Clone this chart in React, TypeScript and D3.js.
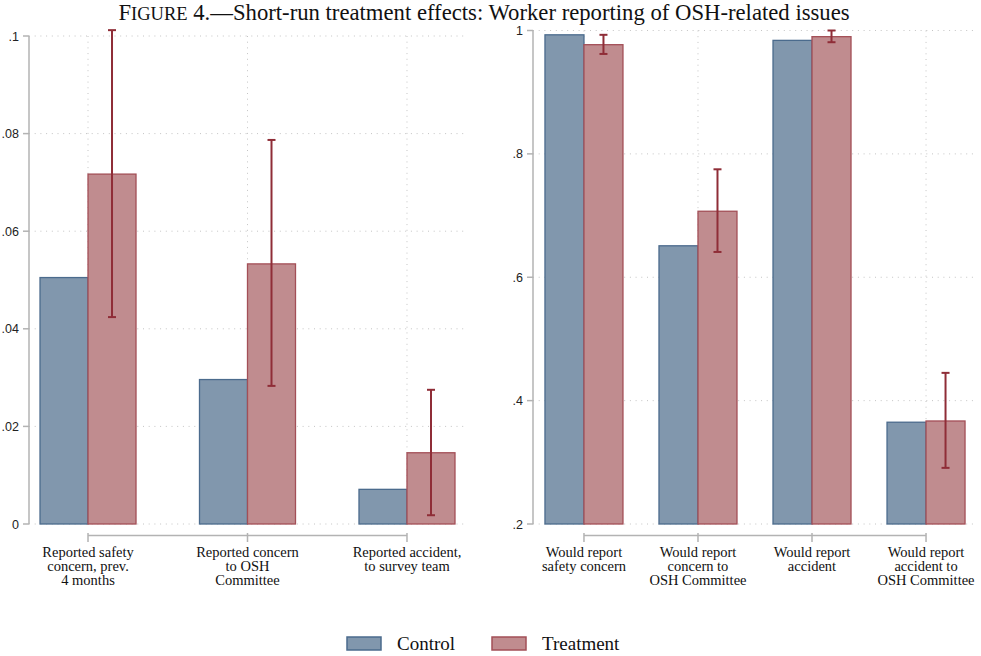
import React from "react";
import * as d3 from "d3";

const leftCategories = [
  ["Reported safety", "concern, prev.", "4 months"],
  ["Reported concern", "to OSH", "Committee"],
  ["Reported accident,", "to survey team"],
];
const leftControl = [0.0505, 0.0296, 0.0071];
const leftTreatment = [0.0717, 0.0533, 0.0146];
const leftLow = [0.0424, 0.0283, 0.0018];
const leftHigh = [0.1012, 0.0787, 0.0275];
const leftTicks = [0, 0.02, 0.04, 0.06, 0.08, 0.1];
const leftTickLabels = ["0", ".02", ".04", ".06", ".08", ".1"];

const rightCategories = [
  ["Would report", "safety concern"],
  ["Would report", "concern to", "OSH Committee"],
  ["Would report", "accident"],
  ["Would report", "accident to", "OSH Committee"],
];
const rightControl = [0.993, 0.651, 0.984, 0.365];
const rightTreatment = [0.977, 0.707, 0.99, 0.367];
const rightLow = [0.962, 0.641, 0.981, 0.291];
const rightHigh = [0.993, 0.775, 1.0, 0.445];
const rightTicks = [0.2, 0.4, 0.6, 0.8, 1];
const rightTickLabels = [".2", ".4", ".6", ".8", "1"];

const seriesNames = ["Control", "Treatment"];

const C_FILL = "#8197ad";
const C_STROKE = "#4b6b8d";
const T_FILL = "#c08c8f";
const T_STROKE = "#a34f57";
const ERR = "#8f2d37";
const AXIS = "#b3b3b3";
const GRID = "#c4c4c4";
const SERIF = "'Liberation Serif', 'Times New Roman', serif";
const SANS = "'Liberation Sans', Arial, sans-serif";

type PanelProps = {
  cats: string[][];
  control: number[];
  treatment: number[];
  low: number[];
  high: number[];
  ticks: number[];
  tickLabels: string[];
  domain: [number, number];
  axisX: number;
  plotRight: number;
  pad: number;
  barW: number;
  top: number;
};

const BOTTOM = 524;

function Panel(p: PanelProps) {
  const y = d3.scaleLinear().domain(p.domain).range([BOTTOM, p.top]);
  const x = d3
    .scalePoint<number>()
    .domain(p.cats.map((_, i) => i))
    .range([p.axisX, p.plotRight])
    .padding(p.pad);
  const yTop = y(p.domain[1]);
  const centers = p.cats.map((_, i) => x(i) as number);
  return (
    <g>
      {p.ticks.map((t, i) => (
        <line
          key={"hg" + i}
          x1={p.axisX}
          x2={p.plotRight}
          y1={y(t)}
          y2={y(t)}
          stroke={GRID}
          strokeWidth={1}
          strokeDasharray="1,4.7"
        />
      ))}
      {centers.map((c, i) => (
        <line
          key={"vg" + i}
          x1={c}
          x2={c}
          y1={yTop}
          y2={BOTTOM}
          stroke={GRID}
          strokeWidth={1}
          strokeDasharray="1,4.7"
        />
      ))}
      {centers.map((c, i) => (
        <g key={"b" + i}>
          <rect
            x={c - p.barW}
            y={y(p.control[i])}
            width={p.barW}
            height={BOTTOM - y(p.control[i])}
            fill={C_FILL}
            stroke={C_STROKE}
            strokeWidth={1.3}
          />
          <rect
            x={c}
            y={y(p.treatment[i])}
            width={p.barW}
            height={BOTTOM - y(p.treatment[i])}
            fill={T_FILL}
            stroke={T_STROKE}
            strokeWidth={1.3}
          />
        </g>
      ))}
      {centers.map((c, i) => {
        const ex = c + p.barW / 2;
        return (
          <g key={"e" + i} stroke={ERR} strokeWidth={2}>
            <line x1={ex} x2={ex} y1={y(p.low[i])} y2={y(p.high[i])} />
            <line x1={ex - 4} x2={ex + 4} y1={y(p.low[i])} y2={y(p.low[i])} />
            <line x1={ex - 4} x2={ex + 4} y1={y(p.high[i])} y2={y(p.high[i])} />
          </g>
        );
      })}
      <line x1={p.axisX} x2={p.axisX} y1={yTop} y2={BOTTOM} stroke={AXIS} strokeWidth={1.5} />
      {p.ticks.map((t, i) => (
        <g key={"yt" + i}>
          <line x1={p.axisX - 6} x2={p.axisX} y1={y(t)} y2={y(t)} stroke={AXIS} strokeWidth={1.5} />
          <text
            x={p.axisX - 10}
            y={y(t) + 4.5}
            textAnchor="end"
            fontFamily={SANS}
            fontSize={12.5}
            fill="#222"
          >
            {p.tickLabels[i]}
          </text>
        </g>
      ))}
      <line
        x1={centers[0]}
        x2={centers[centers.length - 1]}
        y1={535.5}
        y2={535.5}
        stroke={AXIS}
        strokeWidth={1.5}
      />
      {centers.map((c, i) => (
        <g key={"xt" + i}>
          <line x1={c} x2={c} y1={533} y2={542} stroke={AXIS} strokeWidth={1.5} />
          <text textAnchor="middle" fontFamily={SERIF} fontSize={14.5} fill="#111">
            {p.cats[i].map((l, j) => (
              <tspan key={j} x={c} y={557 + j * 14.2}>
                {l}
              </tspan>
            ))}
          </text>
        </g>
      ))}
    </g>
  );
}

export default function App() {
  return (
    <svg width={981} height={656} style={{ display: "block", position: "absolute", left: 0, top: 0 }}>
      <rect width={981} height={656} fill="#fff" />
      <text x={484} y={19.5} textAnchor="middle" fontFamily={SERIF} fontSize={22.7} fill="#111">
        <tspan>F</tspan>
        <tspan fontSize={18.5}>IGURE</tspan>
        <tspan> 4.—Short-run treatment effects: Worker reporting of OSH-related issues</tspan>
      </text>
      <Panel
        cats={leftCategories}
        control={leftControl}
        treatment={leftTreatment}
        low={leftLow}
        high={leftHigh}
        ticks={leftTicks}
        tickLabels={leftTickLabels}
        domain={[0, 0.1]}
        axisX={29}
        plotRight={466}
        pad={0.37}
        barW={48}
        top={36}
      />
      <Panel
        cats={rightCategories}
        control={rightControl}
        treatment={rightTreatment}
        low={rightLow}
        high={rightHigh}
        ticks={rightTicks}
        tickLabels={rightTickLabels}
        domain={[0.2, 1]}
        axisX={533}
        plotRight={977}
        pad={0.447}
        barW={39}
        top={30.5}
      />
      {seriesNames.map((s, i) => {
        const lx = i === 0 ? 347 : 492;
        return (
          <g key={s}>
            <rect
              x={lx}
              y={637}
              width={34}
              height={13}
              fill={i === 0 ? C_FILL : T_FILL}
              stroke={i === 0 ? C_STROKE : T_STROKE}
              strokeWidth={1.5}
            />
            <text x={lx + 50} y={650} fontFamily={SERIF} fontSize={19} fill="#111">
              {s}
            </text>
          </g>
        );
      })}
    </svg>
  );
}
